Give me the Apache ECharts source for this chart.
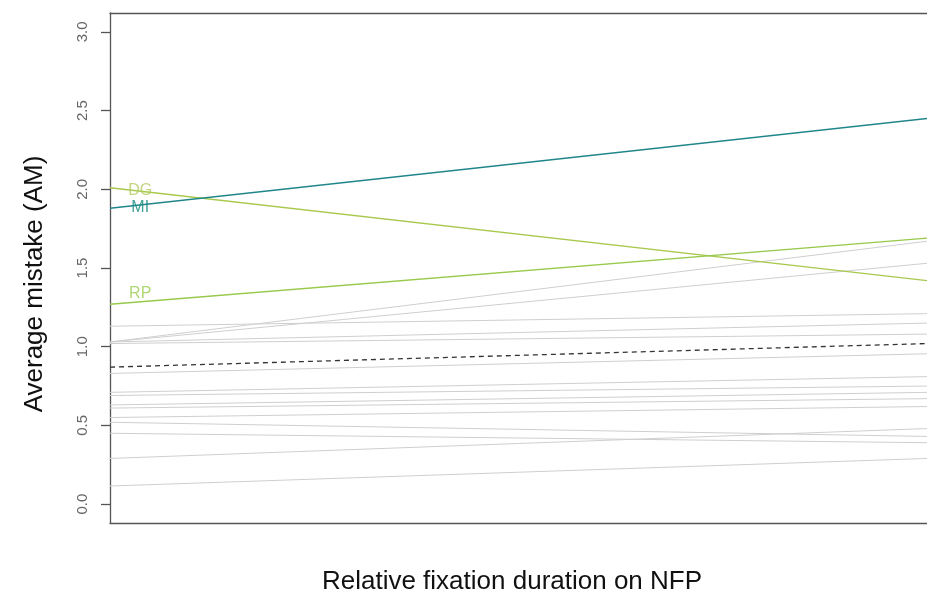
<!DOCTYPE html>
<html>
<head>
<meta charset="utf-8">
<script src="https://cdn.jsdelivr.net/npm/echarts@6/dist/echarts.min.js"></script>
<style>
html,body{margin:0;padding:0;background:#fff;}
#c{width:927px;height:594px;}
</style>
</head>
<body>
<div id="c"></div>
<script>
// y tick labels
const yTicks = [0.0, 0.5, 1.0, 1.5, 2.0, 2.5, 3.0];
// gray individual lines: value at left end and right end
const grayLeft  = [1.03, 1.03, 1.13, 1.03, 1.02, 0.83, 0.71, 0.69, 0.63, 0.61, 0.55, 0.52, 0.45, 0.29, 0.115];
const grayRight = [1.67, 1.53, 1.21, 1.15, 1.08, 0.955, 0.81, 0.75, 0.71, 0.67, 0.62, 0.43, 0.39, 0.48, 0.29];
// mean (dashed)
const meanLine = [0.87, 1.02];
// highlighted lines
const hiNames = ['DG', 'MI', 'RP'];
const hiLeft  = [2.01, 1.88, 1.27];
const hiRight = [1.42, 2.45, 1.69];
const hiLabelY = [1.99, 1.885, 1.34];
const hiLabelX = [0.037, 0.037, 0.037];

const hiColors = ['#a9c84e', '#20868a', '#97c94a'];
const hiLabelColors = ['#b3cc62', '#138a7a', '#9ccc52'];

const series = [];
grayLeft.forEach((l, i) => {
  series.push({
    type: 'line', silent: true, symbol: 'none',
    data: [[0, l], [1, grayRight[i]]],
    lineStyle: { color: '#cfcfcf', width: 1 }, z: 2
  });
});
series.push({
  type: 'line', silent: true, symbol: 'none',
  data: [[0, meanLine[0]], [1, meanLine[1]]],
  lineStyle: { color: '#333', width: 1.3, type: [5, 4] }, z: 3
});
hiNames.forEach((n, i) => {
  series.push({
    type: 'line', silent: true, symbol: 'none',
    data: [[0, hiLeft[i]], [1, hiRight[i]]],
    lineStyle: { color: hiColors[i], width: 1.4 }, z: 4
  });
  series.push({
    type: 'scatter', silent: true, symbolSize: 0,
    data: [[hiLabelX[i], hiLabelY[i]]],
    label: { show: true, position: 'inside', formatter: n,
      color: hiLabelColors[i], fontSize: 16, fontFamily: 'Liberation Sans, Arial, sans-serif' },
    z: 5
  });
});

const chart = echarts.init(document.getElementById('c'), null, { renderer: 'canvas' });
chart.setOption({
  animation: false,
  backgroundColor: '#fff',
  grid: { left: 110, right: 0, top: 13, bottom: 71, containLabel: false },
  xAxis: [
    { type: 'value', min: 0, max: 1, position: 'bottom',
      axisLine: { show: true, onZero: false, lineStyle: { color: '#555', width: 1.3 } },
      axisTick: { show: false }, axisLabel: { show: false }, splitLine: { show: false } },
    { type: 'value', min: 0, max: 1, position: 'top',
      axisLine: { show: true, onZero: false, lineStyle: { color: '#555', width: 1.3 } },
      axisTick: { show: false }, axisLabel: { show: false }, splitLine: { show: false } }
  ],
  yAxis: {
    type: 'value', min: -0.12, max: 3.12,
    axisLine: { show: true, onZero: false, lineStyle: { color: '#555', width: 1.3 } },
    axisTick: { show: true, length: 9, customValues: yTicks, lineStyle: { color: '#555', width: 1.3 } },
    axisLabel: { show: true, rotate: 90, margin: 20, customValues: yTicks,
      formatter: v => v.toFixed(1), color: '#666', fontSize: 15,
      fontFamily: 'Liberation Sans, Arial, sans-serif' },
    splitLine: { show: false }
  },
  graphic: [
    { type: 'text', x: 512, y: 582, style: { text: 'Relative fixation duration on NFP',
        fill: '#111', font: '26px "Liberation Sans", Arial, sans-serif', align: 'center', verticalAlign: 'middle' } },
    { type: 'text', x: 35, y: 284, rotation: Math.PI / 2, style: { text: 'Average mistake (AM)',
        fill: '#111', font: '26px "Liberation Sans", Arial, sans-serif', align: 'center', verticalAlign: 'middle' } }
  ],
  series: series
});
</script>
</body>
</html>
